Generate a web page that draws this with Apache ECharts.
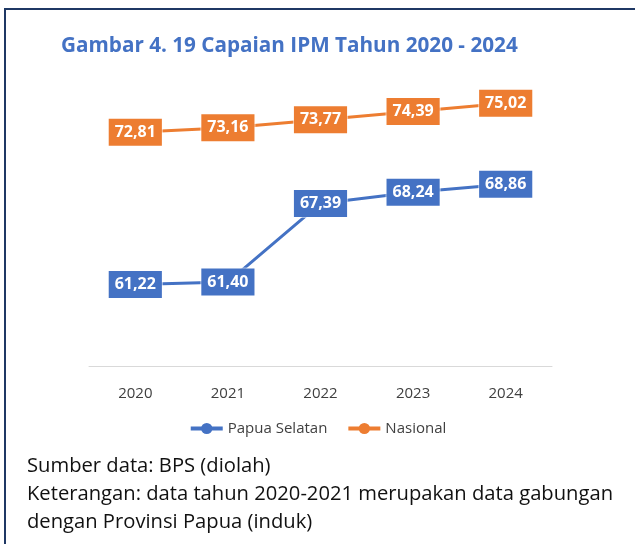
<!DOCTYPE html>
<html>
<head>
<meta charset="utf-8">
<script src="https://cdn.jsdelivr.net/npm/echarts@6/dist/echarts.min.js"></script>
<style>
  html, body { margin: 0; padding: 0; background: #ffffff; }
  #chart { width: 635px; height: 544px; }
</style>
</head>
<body>
<div id="chart"></div>
<script>
// IPM (Indeks Pembangunan Manusia) 2020-2024
const years = ['2020', '2021', '2022', '2023', '2024'];
const papuaSelatan = [61.22, 61.40, 67.39, 68.24, 68.86];
const nasional = [72.81, 73.16, 73.77, 74.39, 75.02];

const titleText = 'Gambar 4. 19 Capaian IPM Tahun 2020 - 2024';
const noteLines = [
  'Sumber data: BPS (diolah)',
  'Keterangan: data tahun 2020-2021 merupakan data gabungan',
  'dengan Provinsi Papua (induk)'
];

const BLUE = '#4472C4';
const ORANGE = '#ED7D31';
const FONT = '"Open Sans", "Noto Sans", sans-serif';

const fmt = v => v.toFixed(2).replace('.', ',');

function valueLabel(color) {
  return {
    show: true,
    position: 'inside',
    formatter: p => fmt(p.value),
    color: '#ffffff',
    fontFamily: FONT,
    fontWeight: 'bold',
    fontSize: 16,
    lineHeight: 17,
    backgroundColor: color,
    borderColor: 'rgba(255,255,255,0.55)',
    borderWidth: 1,
    padding: [5, 6, 5, 6]
  };
}

function lineSeries(name, data, color) {
  return {
    name: name,
    type: 'line',
    data: data,
    symbol: 'circle',
    symbolSize: 9,
    itemStyle: { color: color },
    lineStyle: { color: color, width: 3 },
    label: valueLabel(color),
    z: 3
  };
}

const chart = echarts.init(document.getElementById('chart'), null, { renderer: 'canvas' });

chart.setOption({
  backgroundColor: '#ffffff',
  animation: false,
  grid: { left: 89, right: 83, top: 38, bottom: 178 },
  xAxis: {
    type: 'category',
    data: years,
    boundaryGap: true,
    axisLine: { show: true, lineStyle: { color: '#d9d9d9', width: 1 } },
    axisTick: { show: false },
    axisLabel: { color: '#404040', fontFamily: FONT, fontSize: 15, margin: 20 }
  },
  yAxis: {
    type: 'value',
    min: 55,
    max: 80,
    show: false,
    splitLine: { show: false }
  },
  legend: {
    data: ['Papua Selatan', 'Nasional'],
    left: 'center',
    top: 416,
    itemWidth: 32,
    itemHeight: 14,
    itemGap: 19,
    lineStyle: { width: 4 },
    textStyle: { color: '#404040', fontFamily: FONT, fontSize: 15 }
  },
  series: [
    lineSeries('Papua Selatan', papuaSelatan, BLUE),
    lineSeries('Nasional', nasional, ORANGE)
  ],
  graphic: [
    {
      type: 'polyline',
      shape: { points: [[5, 544], [5, 9], [640, 9]] },
      style: { stroke: '#1F3864', lineWidth: 2, fill: null }
    },
    {
      type: 'text',
      left: 61,
      top: 36,
      style: {
        text: titleText,
        fill: BLUE,
        fontFamily: FONT,
        fontWeight: 'bold',
        fontSize: 20.7
      }
    },
    {
      type: 'text',
      left: 27,
      top: 452,
      style: {
        text: noteLines.join('\n'),
        fill: '#111111',
        fontFamily: FONT,
        fontSize: 20.2,
        lineHeight: 28
      }
    }
  ]
});
</script>
</body>
</html>
